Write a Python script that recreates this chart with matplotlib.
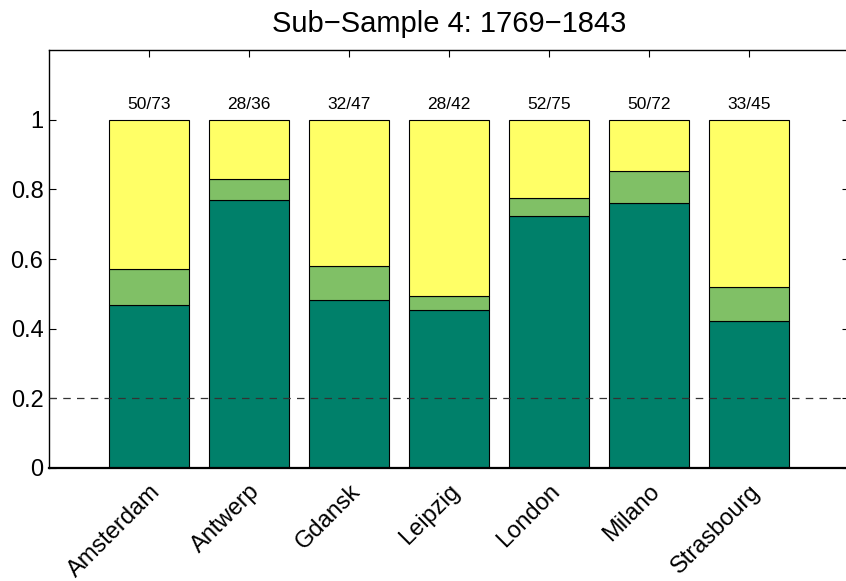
import matplotlib
matplotlib.use("Agg")
import matplotlib.pyplot as plt
import numpy as np

# Data
cities = ["Amsterdam", "Antwerp", "Gdansk", "Leipzig", "London", "Milano", "Strasbourg"]
share_low = [0.468, 0.770, 0.482, 0.453, 0.724, 0.761, 0.422]
share_mid = [0.571, 0.831, 0.580, 0.495, 0.775, 0.853, 0.521]  # cumulative top of middle band
share_top = [1.0, 1.0, 1.0, 1.0, 1.0, 1.0, 1.0]
counts = ["50/73", "28/36", "32/47", "28/42", "52/75", "50/72", "33/45"]
threshold = 0.2

plt.rcParams["font.family"] = ["Liberation Sans", "DejaVu Sans"]

fig = plt.figure(figsize=(8.46, 5.81), dpi=100)
ax = fig.add_axes([49 / 846, (581 - 468) / 581, 800 / 846, 418 / 581])

x = np.arange(1, len(cities) + 1)
low = np.array(share_low)
mid = np.array(share_mid)
top = np.array(share_top)

ax.bar(x, low, width=0.8, color="#00806A", edgecolor="black", linewidth=0.8, zorder=2)
ax.bar(x, mid - low, bottom=low, width=0.8, color="#80C066", edgecolor="black", linewidth=0.8, zorder=2)
ax.bar(x, top - mid, bottom=mid, width=0.8, color="#FFFF66", edgecolor="black", linewidth=0.8, zorder=2)

for xi, t, lab in zip(x, top, counts):
    ax.text(xi, t + 0.032, lab, ha="center", va="baseline", fontsize=12.5)

ax.axhline(threshold, color="#333333", linestyle=(0, (6, 5)), linewidth=0.9, zorder=3)

ax.set_xlim(0, 8)
ax.set_ylim(0, 1.2)
ax.set_yticks([0, 0.2, 0.4, 0.6, 0.8, 1])
ax.set_yticklabels(["0", "0.2", "0.4", "0.6", "0.8", "1"], fontsize=17)
ax.set_xticks(x)
ax.set_xticklabels(cities, rotation=45, ha="right", rotation_mode="anchor", fontsize=17)
ax.tick_params(direction="in", top=True, right=True, length=5, width=0.8)
ax.tick_params(axis="y", pad=4)
ax.tick_params(axis="x", pad=9)
for s in ax.spines.values():
    s.set_linewidth(1.0)
ax.spines["bottom"].set_linewidth(1.6)

ax.set_title("Sub\u2212Sample 4: 1769\u22121843", fontsize=21, pad=13)

fig.savefig("out.png", dpi=100)
